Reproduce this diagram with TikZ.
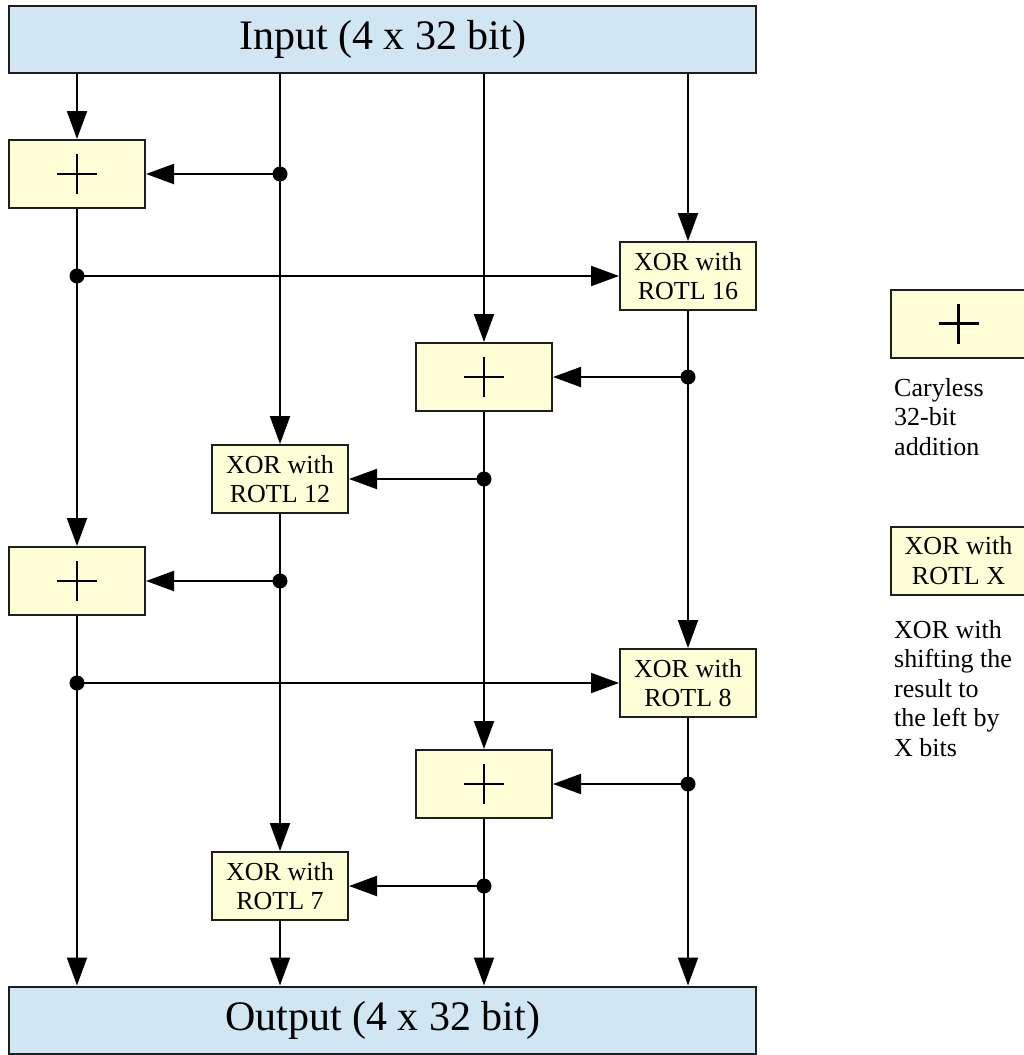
\documentclass[tikz,border=0pt]{standalone}
\usepackage{fontspec}
\setmainfont{Liberation Serif}
\usetikzlibrary{arrows.meta}
\definecolor{ioblue}{RGB}{208,230,243}
\definecolor{opyellow}{RGB}{255,255,215}
\definecolor{edgegray}{RGB}{30,30,30}

\begin{document}
\begin{tikzpicture}[x=1pt,y=-1pt,
  iobox/.style={draw=edgegray, fill=ioblue, line width=2pt, minimum width=747pt,
    minimum height=67pt, inner sep=0pt, font=\fontsize{42}{48}\selectfont},
  opbox/.style={draw=edgegray, fill=opyellow, line width=2pt, minimum width=136pt,
    minimum height=68pt, inner sep=0pt},
  addbox/.style={opbox, path picture={
    \draw[line width=2.2pt, black]
      ([xshift=-20pt]path picture bounding box.center) -- ([xshift=20pt]path picture bounding box.center)
      ([yshift=-20pt]path picture bounding box.center) -- ([yshift=20pt]path picture bounding box.center);}},
  xorbox/.style={opbox, align=center, font=\fontsize{26}{29.5}\selectfont},
  wire/.style={line width=2pt, black},
  flow/.style={wire, -{Triangle[length=28pt,width=20pt]}},
  tap/.style={circle, fill=black, inner sep=0pt, minimum size=15pt},
  % a multi-line note sits on the baseline of its last line
  note/.style={anchor=base west, align=left, inner sep=0pt,
    font=\fontsize{26}{29.5}\selectfont}
]
\useasboundingbox (0,0) rectangle (1024,1055);

% input and output words
\node[iobox] (in)  at (382.5,39)   {Input (4 x 32 bit)};
\node[iobox] (out) at (382.5,1020) {Output (4 x 32 bit)};

% quarter-round operations
\node[addbox] (p1)  at (77,174)  {};
\node[xorbox] (x16) at (688,276) {XOR with\\ROTL 16};
\node[addbox] (p2)  at (484,377) {};
\node[xorbox] (x12) at (280,479) {XOR with\\ROTL 12};
\node[addbox] (p3)  at (77,581)  {};
\node[xorbox] (x8)  at (688,683) {XOR with\\ROTL 8};
\node[addbox] (p4)  at (484,784) {};
\node[xorbox] (x7)  at (280,886) {XOR with\\ROTL 7};

% branch points
\coordinate (t1) at (280,174);
\coordinate (t2) at (77,276);
\coordinate (t3) at (688,377);
\coordinate (t4) at (484,479);
\coordinate (t5) at (280,581);
\coordinate (t6) at (77,683);
\coordinate (t7) at (688,784);
\coordinate (t8) at (484,886);

% words entering from the input
\draw[flow] (in.south -| p1.north)  -- (p1.north);
\draw[flow] (in.south -| x12.north) -- (x12.north);
\draw[flow] (in.south -| p2.north)  -- (p2.north);
\draw[flow] (in.south -| x16.north) -- (x16.north);

% data flow between the stages
\draw[flow] (t1) -- (p1.east);
\draw[flow] (p1.south) -- (p3.north);
\draw[flow] (t2) -- (x16.west);
\draw[flow] (x16.south) -- (x8.north);
\draw[flow] (t3) -- (p2.east);
\draw[flow] (p2.south) -- (p4.north);
\draw[flow] (t4) -- (x12.east);
\draw[flow] (x12.south) -- (x7.north);
\draw[flow] (t5) -- (p3.east);
\draw[flow] (p3.south) -- (p3.south |- out.north);
\draw[flow] (t6) -- (x8.west);
\draw[flow] (x8.south) -- (x8.south |- out.north);
\draw[flow] (t7) -- (p4.east);
\draw[flow] (p4.south) -- (p4.south |- out.north);
\draw[flow] (t8) -- (x7.east);
\draw[flow] (x7.south) -- (x7.south |- out.north);

% junction dots
\foreach \t in {t1,t2,t3,t4,t5,t6,t7,t8}
  \node[tap] at (\t) {};

% legend
\node[addbox] (lgadd) at (958.5,323.5) {};
\node[note] (lgaddtxt) at (894,455) {Caryless\\32-bit\\addition};
\node[xorbox] (lgxor) at (958.5,560.5) {XOR with\\ROTL X};
\node[note] (lgxortxt) at (894,756) {XOR with\\shifting the\\result to\\the left by\\X bits};
\end{tikzpicture}
\end{document}
